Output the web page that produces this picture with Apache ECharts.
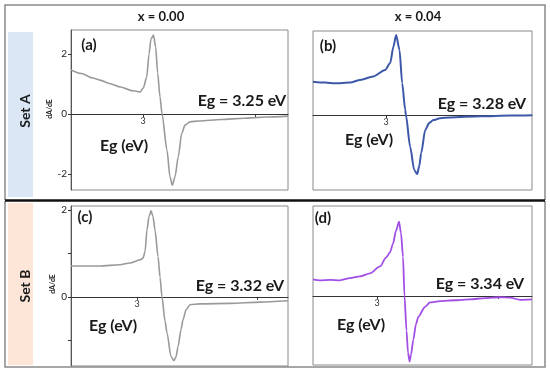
<!DOCTYPE html>
<html><head><meta charset="utf-8">
<script src="https://cdn.jsdelivr.net/npm/echarts@6/dist/echarts.min.js"></script>
<style>html,body{margin:0;padding:0;background:#fff}#c{width:550px;height:374px}</style>
</head><body><div id="c"></div>
<script>
// Panel (a): x = 0.00, Set A
const eA = [2.357,2.45,2.55,2.616,2.7,2.8,2.9,2.95,2.973,3.003,3.033,3.054,3.071,3.094,3.113,3.131,3.152,3.170,3.214,3.241,3.262,3.286,3.315,3.346,3.375,3.42,3.5,3.7,3.9,4.1,4.295];
const vA = [1.47,1.35,1.2,1.13,1.02,0.9,0.78,0.75,0.73,0.87,1.23,2.0,2.5,2.63,2.23,1.37,0.57,0.0,-1.2,-2.09,-2.37,-2.09,-1.42,-0.64,-0.37,-0.26,-0.23,-0.18,-0.14,-0.1,-0.07];
// Panel (b): x = 0.04, Set A
const eB = [2.348,2.455,2.545,2.679,2.768,2.884,2.991,3.036,3.065,3.089,3.119,3.143,3.170,3.176,3.214,3.25,3.277,3.295,3.3125,3.348,3.385,3.42,3.48,3.571,3.839,4.107,4.30];
const vB = [1.11,1.08,1.06,1.08,1.17,1.28,1.5,1.73,2.28,2.67,2.17,1.06,0.17,0.0,-1.06,-1.83,-1.97,-1.7,-1.27,-0.5,-0.26,-0.17,-0.11,-0.08,-0.04,-0.02,-0.01];
// Panel (c): x = 0.00, Set B
const eC = [2.45,2.692,2.858,2.942,3.025,3.05,3.067,3.083,3.1,3.117,3.133,3.15,3.175,3.192,3.208,3.233,3.25,3.283,3.308,3.325,3.342,3.367,3.383,3.408,3.442,3.525,3.775,4.025,4.258];
const vC = [0.71,0.71,0.74,0.78,0.85,0.89,1.04,1.54,1.85,1.98,1.85,1.54,0.93,0.45,0.0,-0.55,-0.83,-1.37,-1.47,-1.38,-1.14,-0.75,-0.53,-0.3,-0.18,-0.16,-0.15,-0.12,-0.09];
// Panel (d): x = 0.04, Set B
const eD = [2.471,2.529,2.612,2.694,2.777,2.86,2.942,3.025,3.074,3.107,3.132,3.157,3.182,3.198,3.215,3.227,3.244,3.256,3.269,3.281,3.3,3.322,3.341,3.397,3.438,3.521,3.645,3.769,3.893,4.017,4.1,4.182,4.281];
const vD = [0.38,0.36,0.37,0.36,0.41,0.45,0.52,0.68,0.88,1.0,1.2,1.5,1.71,1.45,0.9,0.0,-0.8,-1.3,-1.51,-1.35,-1.01,-0.65,-0.48,-0.25,-0.15,-0.12,-0.1,-0.08,-0.05,-0.03,-0.04,-0.09,-0.08];

const columnTitles = ['x = 0.00','x = 0.04'];
const rowTitles = ['Set A','Set B'];
const panelTags = ['(a)','(b)','(c)','(d)'];
const egLabels = ['Eg = 3.25 eV','Eg = 3.28 eV','Eg = 3.32 eV','Eg = 3.34 eV'];
const xTickLabels = [3];

const zip = (a,b)=>a.map((x,i)=>[x,b[i]]);
const FONT = 'Lato';
const chart = echarts.init(document.getElementById('c'), null, {renderer:'canvas'});

const gridBoxes = [
  {left:71, top:30, width:217, height:160},
  {left:313, top:31, width:219, height:159},
  {left:71, top:206, width:217, height:160},
  {left:313, top:206, width:219, height:159}
];
const grids = gridBoxes.map(g=>Object.assign({show:true, borderColor:'#8a8a8a', borderWidth:1, backgroundColor:'transparent'}, g));

const xr = [[2.357,4.295],[2.348,4.30],[2.45,4.258],[2.471,4.281]];
const yr = [[-2.53,2.8],[-2.5,2.8],[-1.59,2.09],[-1.59,2.07]];
const xTicks = [[3,4],[3],[3,4],[3,4]];
const yTicks = [[-2,0,2],[],[-1,0,1,2],[]];
const yLabs = [[-2,0,2],[],[0,2],[]];

const xAxes = xr.map((r,i)=>({
  type:'value', gridIndex:i, min:r[0], max:r[1], position:'bottom',
  offset: -gridBoxes[i].height * (0 - yr[i][0]) / (yr[i][1] - yr[i][0]),
  axisLine:{show:true, onZero:false, lineStyle:{color:'#333', width:1}},
  axisTick:{show:true, length:3, customValues:xTicks[i], lineStyle:{color:'#333'}},
  axisLabel:{show:true, customValues:xTickLabels, margin:3, fontSize:9, color:'#333', fontFamily:FONT},
  splitLine:{show:false}
}));
const yAxes = yr.map((r,i)=>({
  type:'value', gridIndex:i, min:r[0], max:r[1],
  axisLine:{show:yTicks[i].length>0, lineStyle:{color:'#555'}},
  axisTick:{show:yTicks[i].length>0, length:3, customValues:yTicks[i], lineStyle:{color:'#333'}},
  axisLabel:{show:yLabs[i].length>0, customValues:yLabs[i], margin:4, fontSize:10, color:'#222', fontFamily:FONT},
  splitLine:{show:false}
}));

const colors = ['#9a9a9a','#3d58a8','#9a9a9a','#a24fe6'];
const widths = [1.6,2,1.6,1.8];
const datas = [zip(eA,vA),zip(eB,vB),zip(eC,vC),zip(eD,vD)];
const series = datas.map((d,i)=>({
  type:'line', xAxisIndex:i, yAxisIndex:i, data:d, showSymbol:false, symbol:'none',
  smooth:0.25, smoothMonotone:'x', silent:true, z:3,
  lineStyle:{color:colors[i], width:widths[i]}
}));

function txt(x,y,t,size,opts){
  return Object.assign({type:'text', x:x, y:y, z:10, style:{text:t, font:'bold '+size+'px '+FONT, fill:'#1a1a1a', align:'center', verticalAlign:'middle'}}, opts||{});
}
const graphic = [
  {type:'rect', shape:{x:8,y:32,width:25,height:165}, style:{fill:'#dbe7f5'}, z:0},
  {type:'rect', shape:{x:8,y:203,width:25,height:162}, style:{fill:'#fde6d8'}, z:0},
  {type:'polyline', shape:{points:[[5,200],[5,5],[545,5],[545,200]]}, style:{stroke:'#8a8a8a', lineWidth:1.5, fill:null}, z:1},
  {type:'polyline', shape:{points:[[5,201],[5,367],[545,367],[545,201]]}, style:{stroke:'#8a8a8a', lineWidth:1.5, fill:null}, z:1},
  {type:'line', shape:{x1:5,y1:200.5,x2:545,y2:200.5}, style:{stroke:'#111', lineWidth:2.5}, z:2},
  txt(161,17,columnTitles[0],13), txt(418,17,columnTitles[1],13),
  txt(25,111,rowTitles[0],14,{rotation:Math.PI/2}),
  txt(25,286,rowTitles[1],14,{rotation:Math.PI/2}),
  txt(50,109,'dA/dE',7,{rotation:Math.PI/2}),
  txt(53,284,'dA/dE',7,{rotation:Math.PI/2}),
  txt(89,45,panelTags[0],15), txt(328,46,panelTags[1],15),
  txt(85,217,panelTags[2],15), txt(323,218,panelTags[3],15),
  txt(124,146,'Eg (eV)',16), txt(369,140,'Eg (eV)',16),
  txt(113,326,'Eg (eV)',16), txt(361,325,'Eg (eV)',16),
  txt(242,101,egLabels[0],16), txt(482,104,egLabels[1],16),
  txt(240,286,egLabels[2],16), txt(480,284,egLabels[3],16)
];

chart.setOption({
  animation:false, backgroundColor:'#fff',
  grid:grids, xAxis:xAxes, yAxis:yAxes, series:series, graphic:graphic
});
</script></body></html>
